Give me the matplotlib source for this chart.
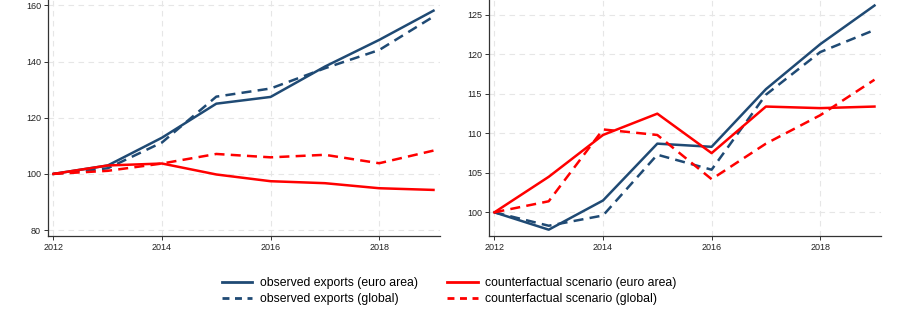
import matplotlib
matplotlib.use("Agg")
import matplotlib.pyplot as plt
from matplotlib.lines import Line2D

years = [2012, 2013, 2014, 2015, 2016, 2017, 2018, 2019]

# Left panel
left_obs_ea = [100, 103.0, 112.9, 125.0, 127.4, 138.2, 147.7, 158.1]
left_obs_gl = [100, 102.0, 111.2, 127.5, 130.4, 137.6, 144.1, 156.0]
left_cf_ea = [100, 103.0, 103.7, 99.8, 97.4, 96.7, 94.9, 94.3]
left_cf_gl = [100, 101.1, 103.7, 107.1, 105.9, 106.8, 103.8, 108.3]

# Right panel
right_obs_ea = [100, 97.8, 101.5, 108.7, 108.3, 115.6, 121.3, 126.2]
right_obs_gl = [100, 98.3, 99.6, 107.3, 105.4, 114.9, 120.3, 123.1]
right_cf_ea = [100, 104.5, 109.8, 112.5, 107.5, 113.4, 113.2, 113.4]
right_cf_gl = [100, 101.4, 110.5, 109.8, 104.2, 108.7, 112.3, 116.8]

xticks = [2012, 2014, 2016, 2018]
left_yticks = [80, 100, 120, 140, 160]
right_yticks = [100, 105, 110, 115, 120, 125]

labels = ["observed exports (euro area)", "observed exports (global)",
          "counterfactual scenario (euro area)", "counterfactual scenario (global)"]

NAVY = "#1f4a74"
RED = "#ff0000"

plt.rcParams['font.family'] = ['Liberation Sans', 'DejaVu Sans']

fig = plt.figure(figsize=(8.98, 3.27), dpi=100)
W, H = 898, 327
axL = fig.add_axes([48 / W, 1 - 236 / H, (440 - 48) / W, 236 / H])
axR = fig.add_axes([489 / W, 1 - 236 / H, (881 - 489) / W, 236 / H])

def style(ax, yticks, ylim):
    ax.set_xlim(2011.9, 2019.12)
    ax.set_ylim(*ylim)
    ax.set_xticks(xticks)
    ax.set_yticks(yticks)
    ax.grid(True, color="#e6e6e6", linestyle=(0, (5, 4)), linewidth=0.8)
    ax.set_axisbelow(True)
    for s in ["top", "right"]:
        ax.spines[s].set_visible(False)
    for s in ["left", "bottom"]:
        ax.spines[s].set_color("#333333")
        ax.spines[s].set_linewidth(0.9)
    ax.tick_params(axis="both", labelsize=6.5, length=3, width=0.7,
                   color="#333333", labelcolor="#222222", pad=2)

def draw(ax, oe, og, ce, cg):
    ax.plot(years, oe, color=NAVY, lw=1.8, ls="-")
    ax.plot(years, og, color=NAVY, lw=1.8, ls=(0, (4, 2.5)))
    ax.plot(years, ce, color=RED, lw=1.8, ls="-")
    ax.plot(years, cg, color=RED, lw=1.8, ls=(0, (4, 2.5)))

draw(axL, left_obs_ea, left_obs_gl, left_cf_ea, left_cf_gl)
draw(axR, right_obs_ea, right_obs_gl, right_cf_ea, right_cf_gl)
style(axL, left_yticks, (77.9, 161.9))
style(axR, right_yticks, (97.0, 126.9))

handles = [
    Line2D([], [], color=NAVY, lw=2, ls="-"),
    Line2D([], [], color=NAVY, lw=2, ls=(0, (2.5, 2))),
    Line2D([], [], color=RED, lw=2, ls="-"),
    Line2D([], [], color=RED, lw=2, ls=(0, (2.5, 2))),
]
fig.legend(handles, labels, ncol=2, loc="center", bbox_to_anchor=(0.5, 1 - 291 / H),
           frameon=False, fontsize=8.8, handlelength=2.5, handletextpad=0.6,
           columnspacing=2.4, labelspacing=0.3)

fig.savefig("out.png", dpi=100)
